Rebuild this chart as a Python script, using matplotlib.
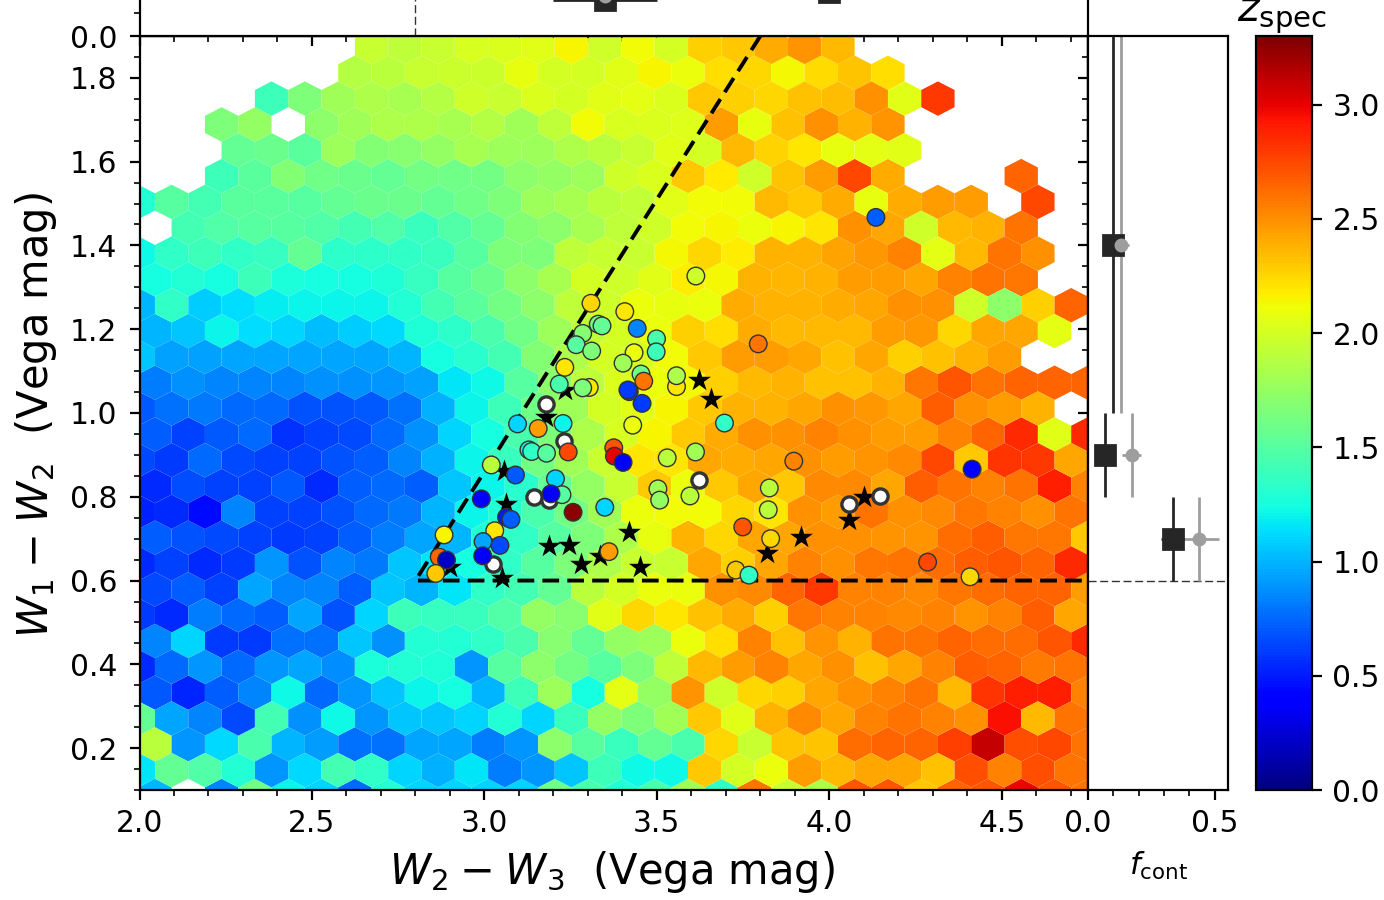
import numpy as np
import matplotlib
matplotlib.use("Agg")
import matplotlib.pyplot as plt
from matplotlib.ticker import MultipleLocator, FormatStrFormatter
from matplotlib.cm import ScalarMappable
from matplotlib.colors import Normalize

plt.rcParams["xtick.labelsize"] = 10.7
plt.rcParams["ytick.labelsize"] = 10.7

n = np.nan
# mean spectroscopic redshift of every hexagon, one list per row, top row first
z_r27 = [n,n,n,n,n,n,n,1.95,1.92,1.95,2.02,2.03,2.05,2.15,1.98,2.12,2.0,2.28,2.3,2.4,2.48,2.35,n,n,n,n,n,n,n]
z_r26 = [n,n,n,n,n,n,1.88,1.9,1.95,1.97,1.97,2.08,2.0,2.0,2.05,2.14,2.1,2.22,2.25,2.13,2.24,2.32,2.23,n,n,n,n,n,n]
z_r25 = [n,n,n,n,1.4,1.65,1.8,1.85,1.83,1.87,1.98,1.95,2.03,2.0,2.05,2.07,2.03,2.3,2.27,2.25,2.33,2.34,2.5,2.05,2.8,n,n,n,n]
z_r24 = [n,n,1.65,1.75,n,1.72,1.8,1.85,1.85,1.83,1.88,1.8,1.92,2.12,2.02,2.03,2.04,2.45,2.08,2.33,2.5,2.38,2.48,n,n,n,n,n,n]
z_r23 = [n,n,n,1.55,1.58,1.52,1.78,1.68,1.7,1.75,1.82,1.78,1.78,1.85,1.9,1.95,2.05,2.0,2.35,2.26,2.2,2.08,2.07,2.06,n,n,n,n,n]
z_r22 = [n,n,1.4,1.52,1.68,1.6,1.58,1.55,1.62,1.6,1.62,1.72,1.75,1.78,1.98,2.03,2.3,2.18,1.98,2.32,2.45,2.75,2.4,n,n,n,2.65,n,n]
z_r21 = [1.3,1.5,1.42,1.52,1.52,1.5,1.55,1.58,1.58,1.55,1.6,1.65,1.78,1.82,1.9,1.93,2.05,2.12,2.12,2.35,2.3,2.4,2.08,2.4,2.45,2.45,n,2.75,n]
z_r20 = [n,1.42,1.47,1.5,1.5,1.47,1.42,1.47,1.38,1.47,1.55,1.68,1.72,1.82,1.92,1.98,2.12,2.15,2.1,2.15,2.2,2.5,2.42,1.98,2.35,2.38,2.6,n,n]
z_r19 = [1.22,1.35,1.4,1.35,1.37,1.55,1.33,1.33,1.35,1.38,1.5,1.65,1.65,1.92,1.95,1.95,2.13,2.25,2.17,2.38,2.38,2.43,2.47,2.55,2.07,2.35,2.6,2.5,n]
z_r18 = [1.25,1.3,1.25,1.4,1.27,1.25,1.25,1.28,1.37,1.5,1.58,1.72,1.82,2.0,1.98,2.05,2.17,2.13,2.38,2.36,2.38,2.45,2.45,2.42,2.55,2.6,2.58,n,n]
z_r17 = [1.0,1.35,1.08,1.13,1.18,1.2,1.2,1.2,1.3,1.42,1.52,1.62,1.72,1.92,1.98,2.1,2.08,2.1,2.4,2.38,2.38,2.4,2.42,2.5,2.5,1.98,1.72,2.28,2.65]
z_r16 = [1.0,1.05,1.2,1.13,1.1,1.03,1.07,1.12,1.28,1.33,1.45,1.6,1.78,1.93,2.0,2.1,2.28,2.23,2.4,2.35,2.35,2.35,2.45,2.47,2.25,2.42,2.42,2.07,n]
z_r15 = [1.05,.93,.93,.95,.95,.95,.95,.95,1.0,1.25,1.32,1.42,1.68,1.85,2.0,2.02,2.12,2.3,2.45,2.45,2.42,2.33,2.42,2.28,2.33,2.38,2.45,n,n]
z_r14 = [.82,.88,.85,.85,.85,.88,.88,.9,.93,1.15,1.22,1.5,1.72,1.92,2.03,2.1,2.13,2.28,2.35,2.38,2.33,2.33,2.38,2.58,2.7,2.6,2.65,2.65,2.65]
z_r13 = [.7,.78,.8,.75,.75,.68,.68,.7,.78,.98,1.2,1.4,1.6,1.8,2.0,2.05,2.15,2.3,2.38,2.38,2.42,2.5,2.47,2.42,2.68,2.5,2.45,2.38,n]
z_r12 = [.72,.62,.7,.75,.58,.63,.65,.75,.88,1.1,1.25,1.45,1.65,1.85,2.02,2.15,2.3,2.4,2.5,2.5,2.55,2.5,2.45,2.45,2.55,2.65,2.85,2.05,2.85]
z_r11 = [.65,.6,.75,.65,.62,.62,.68,.72,.85,.98,1.2,1.38,1.62,1.8,1.95,2.2,2.2,2.42,2.4,2.42,2.5,2.45,2.48,2.52,2.75,2.3,2.82,2.8,2.42]
z_r10 = [.55,.67,.62,.62,.7,.55,.72,.75,.72,1.05,1.2,1.32,1.55,1.75,1.95,2.3,2.1,2.3,2.42,2.3,2.52,2.52,2.42,2.68,2.6,2.55,2.6,2.9,2.55]
z_r09 = [.52,.55,.45,.85,.62,.62,.68,.75,.8,1.0,1.2,1.3,1.45,1.62,1.8,2.1,2.12,2.12,2.25,2.2,2.5,2.45,2.6,2.5,2.52,2.58,2.55,2.5,2.6]
z_r08 = [.72,.68,.65,.62,.6,.62,.72,.82,.95,1.0,1.3,1.35,1.5,1.65,1.85,2.08,2.38,2.25,2.42,2.42,2.5,2.5,2.48,2.48,2.62,2.68,2.58,2.58,2.3]
z_r07 = [.55,.62,.55,.6,.9,.68,.85,.8,1.05,1.15,1.25,1.35,1.5,1.65,1.85,1.95,1.95,2.42,2.28,2.42,2.55,2.5,2.58,2.6,2.62,2.68,2.7,2.65,2.85]
z_r06 = [.65,.72,.62,.95,.85,.85,.72,1.05,1.0,1.15,1.35,1.42,1.55,1.9,2.0,2.1,2.1,2.5,2.52,2.65,2.8,2.55,2.55,2.52,2.58,2.62,2.65,2.65,2.45]
z_r05 = [.6,.55,.82,.75,.72,.95,.68,1.1,1.4,1.37,1.38,1.48,1.75,1.7,2.05,2.25,2.2,2.33,2.4,2.28,2.58,2.55,2.55,2.52,2.55,2.48,2.55,2.68,2.42]
z_r04 = [.85,1.1,.6,.6,.78,.78,1.05,.88,1.3,1.3,1.35,1.45,1.7,1.55,1.75,1.78,2.1,2.22,2.55,2.33,2.48,2.38,2.6,2.6,2.65,2.62,2.62,2.7,2.85]
z_r03 = [.55,.75,.9,.75,.9,.95,.87,1.27,1.3,1.28,.9,1.5,1.72,1.62,1.5,1.65,1.92,2.35,2.45,2.55,2.42,2.5,2.33,2.42,2.55,2.68,2.65,2.57,2.6]
z_r02 = [.7,.53,.72,.85,1.22,.75,.9,1.05,1.2,1.25,1.0,1.4,1.78,1.25,2.07,1.75,2.48,1.98,2.25,2.28,2.42,2.5,2.55,2.6,2.35,2.82,2.9,2.9,2.55]
z_r01 = [1.55,.95,.85,.65,1.42,.88,1.22,.9,1.05,1.05,1.1,1.3,1.1,1.38,1.75,1.65,1.8,2.3,2.05,2.38,2.52,2.42,2.55,2.6,2.55,2.5,2.95,2.35,2.6]
z_r00 = [1.9,.9,1.12,1.45,1.0,.92,.78,.78,.95,.95,.82,.9,1.72,1.5,1.38,1.55,1.45,2.25,1.95,2.32,2.32,2.62,2.65,2.65,2.78,3.1,2.72,2.75,2.6]
z_rm1 = [1.15,1.55,1.48,1.3,.9,1.12,1.42,1.35,1.1,.98,1.15,.82,.9,1.05,1.4,1.22,1.22,2.3,2.0,2.1,2.45,2.35,2.42,2.42,2.33,2.72,2.55,2.72,2.6]
z_rm2 = [1.0,n,.85,1.6,1.2,1.1,.75,1.3,1.1,1.1,1.1,1.1,1.6,1.45,1.3,1.45,1.8,1.35,2.6,1.95,1.85,2.7,2.7,2.3,2.65,2.7,2.98,2.7,2.6]
hex_rows = [z_r27,z_r26,z_r25,z_r24,z_r23,z_r22,z_r21,z_r20,z_r19,z_r18,z_r17,z_r16,z_r15,z_r14,z_r13,
            z_r12,z_r11,z_r10,z_r09,z_r08,z_r07,z_r06,z_r05,z_r04,z_r03,z_r02,z_r01,z_r00,z_rm1,z_rm2]

# coloured sources
src_x = [3.309,3.330,3.341,3.285,3.266,3.311,3.233,3.217,3.304,3.285,3.096,3.228,3.156,3.243,3.129,3.137,3.180,3.020,
         3.090,3.206,2.991,3.225,3.193,3.257,3.349,3.064,3.077,2.883,3.030,2.996,3.045,2.995,2.869,2.890,2.859,3.361,
         3.613,4.135,3.407,3.443,3.499,3.498,3.434,3.402,3.454,3.462,3.557,3.557,3.420,3.416,3.457,3.430,3.696,3.794,
         3.375,3.377,3.402,3.530,3.612,3.897,3.503,3.508,3.596,3.826,3.823,4.414,3.749,3.830,3.729,3.767,4.285,4.408]
src_y = [1.262,1.212,1.208,1.190,1.163,1.148,1.109,1.069,1.061,1.060,.974,.975,.963,.907,.912,.908,.904,.876,
         .852,.843,.795,.805,.807,.763,.775,.751,.746,.709,.719,.693,.684,.659,.656,.649,.617,.669,
         1.327,1.467,1.242,1.202,1.177,1.146,1.144,1.119,1.093,1.076,1.063,1.089,1.051,1.055,1.023,.971,.976,1.165,
         .917,.897,.882,.893,.907,.885,.819,.792,.802,.821,.769,.866,.728,.700,.625,.613,.644,.609]
src_z = [2.25,1.6,1.55,1.7,1.5,1.65,2.2,1.45,2.2,1.65,1.1,1.2,2.45,2.75,1.2,1.35,1.5,1.9,
         .7,1.1,.42,1.5,.35,3.25,1.1,.5,.72,2.15,2.2,.95,.65,.35,2.65,.2,2.3,2.45,
         1.98,.72,2.2,.85,1.45,1.4,2.1,1.8,1.6,2.6,2.2,1.85,.65,.6,.6,2.1,1.35,2.6,
         2.7,3.0,.4,1.9,1.8,2.55,1.8,1.75,1.9,1.9,1.9,.4,2.7,2.25,2.3,1.35,2.75,2.25]
# sources without a redshift
white_x = [3.178,3.231,3.144,3.188,3.026,3.622,4.057,4.147]
white_y = [1.021,.934,.800,.792,.640,.839,.782,.803]
# stars
star_x = [3.057,3.064,3.178,3.233,3.187,3.246,3.279,3.335,2.900,3.051,3.621,3.656,3.420,3.451,3.819,3.917,4.057,4.100]
star_y = [.862,.783,.991,1.055,.682,.685,.640,.659,.633,.605,1.079,1.034,.717,.633,.665,.704,.745,.799]

# wedge
wedge_x = [3.8, 2.8, 4.75]
wedge_y = [1.9, 0.6, 0.6]

# contamination fraction, right panel
fc_y = [1.4, 0.9, 0.7]
fc_ylo = [0.4, 0.1, 0.1]
fc_yhi = [0.5, 0.1, 0.1]
fc_black = [0.097, 0.069, 0.334]
fc_black_err = [0.03, 0.03, 0.045]
fc_gray = [0.130, 0.173, 0.437]
fc_gray_err = [0.032, 0.037, 0.079]
# contamination fraction, top panel
ft_x = [3.35, 4.0]
ft_xerr = [0.15, 0.03]
ft_black = [0.1545, 0.191]
ft_gray = [0.172]

CMAP, VMIN, VMAX = "jet", 0.0, 3.3
W, H = 1384.0, 900.0
fig = plt.figure(figsize=(W/200, H/200), dpi=200)
def box(l, t, r, b):
    return [l/W, 1-b/H, (r-l)/W, (b-t)/H]

ax = fig.add_axes(box(139.5, 36, 1088, 790))
axt = fig.add_axes(box(139.5, -92, 1088, 36))
axr = fig.add_axes(box(1088, 36, 1228, 790))
cax = fig.add_axes(box(1255.8, 36, 1312.2, 790))

# hexagon lattice
dx, dy = 0.0966, 0.06166
xmin, ymin = 1.9482, 0.08578
hx, hy, hz = [], [], []
for i, row in enumerate(hex_rows):
    k = 27 - i
    for c, v in enumerate(row):
        if np.isnan(v):
            continue
        hx.append(xmin + (c + (1.0 if k % 2 == 0 else 0.5))*dx)
        hy.append(ymin + (k + 2)*dy)
        hz.append(v)
ax.hexbin(hx, hy, C=hz, gridsize=(29, 15), extent=(xmin, xmin+29*dx, ymin, ymin+30*dy),
          cmap=CMAP, vmin=VMIN, vmax=VMAX, linewidths=0, zorder=1)

ax.plot(wedge_x, wedge_y, color="k", lw=1.4, dashes=(4.3, 2.1), zorder=3)
ax.scatter(star_x, star_y, marker="*", s=75, c="k", linewidths=0, zorder=4)
ax.scatter(white_x, white_y, s=30, c="w", edgecolors="0.2", linewidths=1.2, zorder=5)
ax.scatter(src_x, src_y, s=40, c=src_z, cmap=CMAP, vmin=VMIN, vmax=VMAX, edgecolors="0.2", linewidths=0.5, zorder=6)

ax.set_xlim(2.0, 4.75)
ax.set_ylim(0.1, 1.9)
ax.xaxis.set_major_locator(MultipleLocator(0.5))
ax.xaxis.set_minor_locator(MultipleLocator(0.1))
ax.yaxis.set_major_locator(MultipleLocator(0.2))
ax.yaxis.set_minor_locator(MultipleLocator(0.05))
ax.xaxis.set_major_formatter(FormatStrFormatter("%.1f"))
ax.yaxis.set_major_formatter(FormatStrFormatter("%.1f"))
ax.tick_params(axis="y", which="major", pad=4.4)
ax.set_xlabel(r"$W_2\hspace{0.05}-\hspace{0.05}W_3$  (Vega mag)", fontsize=15, labelpad=3.8)
ax.xaxis.label.set_x(0.4985)
ax.set_ylabel(r"$W_1\hspace{0.05}-\hspace{0.05}W_2$  (Vega mag)", fontsize=15)
ax.yaxis.label.set_y(0.4975)

sx = ax.secondary_xaxis("top")
sx.xaxis.set_major_locator(MultipleLocator(0.5))
sx.xaxis.set_minor_locator(MultipleLocator(0.1))
sx.tick_params(which="both", direction="in", labeltop=False)
sy = ax.secondary_yaxis("right")
sy.yaxis.set_major_locator(MultipleLocator(0.2))
sy.yaxis.set_minor_locator(MultipleLocator(0.05))
sy.tick_params(which="both", direction="in", labelright=False)

# top panel
axt.set_xlim(2.0, 4.75)
axt.set_ylim(0.0, 0.55)
axt.set_xticks([])
axt.set_yticks([0.0])
axt.yaxis.set_minor_locator(MultipleLocator(0.1))
axt.yaxis.set_major_formatter(FormatStrFormatter("%.1f"))
axt.tick_params(axis="y", which="major", pad=4.4)
axt.plot([wedge_x[1], wedge_x[1]], [0, 0.55], color="0.2", lw=0.5, dashes=(5.8, 2.6))
axt.errorbar(ft_x, ft_black, xerr=ft_xerr, fmt="s", color="0.15", ms=7.5, elinewidth=1.0, zorder=3)
axt.plot(ft_x[:1], ft_gray, "o", color="0.62", ms=4, zorder=4)
fig.text(42.5/W, 1-1/H, r"$f_{\rm cont}$", rotation=90, fontsize=11, ha="center", va="bottom")

# right panel
axr.set_xlim(0.0, 0.553)
axr.set_ylim(0.1, 1.9)
axr.set_yticks([])
axr.xaxis.set_major_locator(MultipleLocator(0.5))
axr.xaxis.set_minor_locator(MultipleLocator(0.1))
axr.xaxis.set_major_formatter(FormatStrFormatter("%.1f"))
axr.set_xlabel(r"$f_{\rm cont}$", fontsize=11, labelpad=4.3)
axr.plot([0, 0.553], [wedge_y[1], wedge_y[1]], color="0.2", lw=0.5, dashes=(5.8, 2.6))
axr.errorbar(fc_gray, fc_y, xerr=fc_gray_err, yerr=[fc_ylo, fc_yhi], fmt="none", ecolor="0.62", elinewidth=1.0, zorder=2)
axr.errorbar(fc_black, fc_y, xerr=fc_black_err, yerr=[fc_ylo, fc_yhi], fmt="s", color="0.15", ms=7.5, elinewidth=1.0, zorder=3)
axr.plot(fc_gray, fc_y, "o", color="0.62", ms=4, zorder=4)

# colour bar
cb = fig.colorbar(ScalarMappable(Normalize(VMIN, VMAX), CMAP), cax=cax, ticks=[0, .5, 1, 1.5, 2, 2.5, 3])
cb.ax.yaxis.set_major_formatter(FormatStrFormatter("%.1f"))
cax.tick_params(axis="y", pad=3.8)
cax.set_title(r"$z_{\rm spec}$", fontsize=15, pad=1.3, x=0.46)

fig.savefig("out.png", dpi=200)
